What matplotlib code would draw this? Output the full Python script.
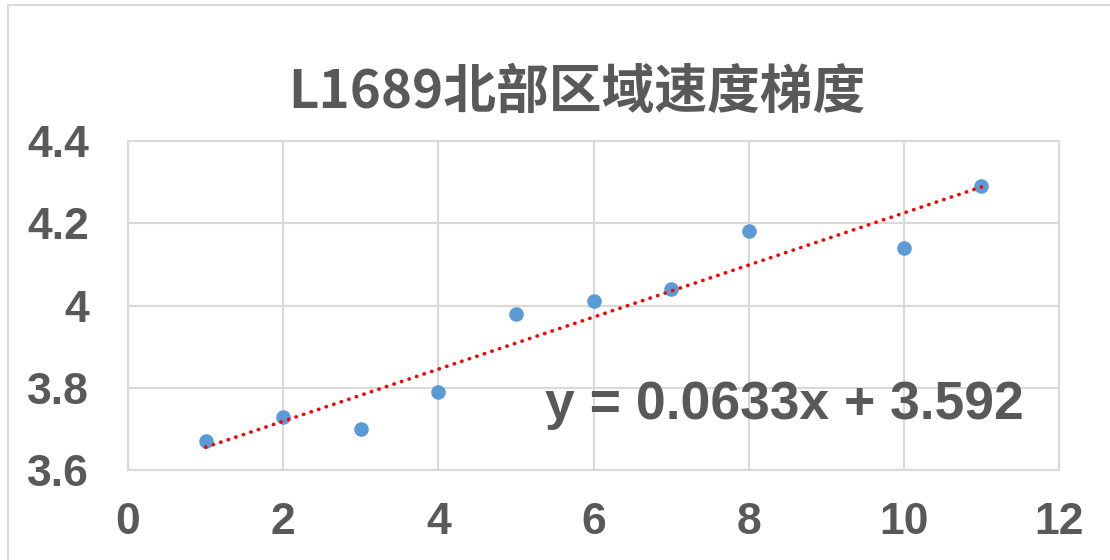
import matplotlib
matplotlib.use("Agg")
import matplotlib.pyplot as plt
import numpy as np
from matplotlib.patches import Rectangle

x_vals = [1, 2, 3, 4, 5, 6, 7, 8, 10, 11]
y_vals = [3.67, 3.73, 3.70, 3.79, 3.98, 4.01, 4.04, 4.18, 4.14, 4.29]
slope = 0.0633
intercept = 3.592
title = "L1689北部区域速度梯度"
equation = "y = 0.0633x + 3.592"
x_ticks = [0, 2, 4, 6, 8, 10, 12]
y_ticks = [3.6, 3.8, 4.0, 4.2, 4.4]
y_tick_labels = ["3.6", "3.8", "4", "4.2", "4.4"]

text_color = "#595959"
grid_color = "#D9D9D9"

fig = plt.figure(figsize=(11.10, 5.60), dpi=100)
W, H = 1110, 560
# figure border (chart area outline)
fig.patches.append(Rectangle((8 / W, -0.1), 1.2, 1 - 5 / H + 0.1, transform=fig.transFigure,
                             fill=False, edgecolor=grid_color, linewidth=1.5))

left, right, top, bottom = 128, 1059, 141, 470
ax = fig.add_axes([left / W, 1 - bottom / H, (right - left) / W, (bottom - top) / H])
ax.set_xlim(0, 12)
ax.set_ylim(3.6, 4.4)
ax.set_xticks(x_ticks)
ax.set_yticks(y_ticks)
ax.set_xticklabels([str(t) for t in x_ticks])
ax.set_yticklabels(y_tick_labels)
ax.grid(True, color=grid_color, linewidth=1.5)
ax.set_axisbelow(True)
for s in ax.spines.values():
    s.set_color(grid_color)
    s.set_linewidth(1.5)
ax.tick_params(axis="y", length=0, labelsize=32, labelcolor=text_color, pad=28)
ax.tick_params(axis="x", length=0, labelsize=32, labelcolor=text_color, pad=23)
for lab in ax.get_xticklabels() + ax.get_yticklabels():
    lab.set_fontfamily("Liberation Sans")
    lab.set_fontweight("bold")

ax.scatter(x_vals, y_vals, s=10.5 ** 2, color="#5B9BD5", zorder=3, linewidths=0)
xt = np.array([min(x_vals), max(x_vals)])
ax.plot(xt, slope * xt + intercept, color="#FF0000", linewidth=2.6,
        linestyle=(0, (0.1, 2.1)), dash_capstyle="round", zorder=4)

ax.text(5.37, 3.758, equation, fontsize=38.5, color=text_color, family="Liberation Sans",
        fontweight="bold", va="center", ha="left", zorder=5)

fig.text(577 / W, 1 - 92 / H, title, fontsize=38, color=text_color, fontweight="bold",
         family=["Noto Sans CJK SC", "DejaVu Sans"], ha="center", va="center")

fig.savefig("out.png", dpi=100)
